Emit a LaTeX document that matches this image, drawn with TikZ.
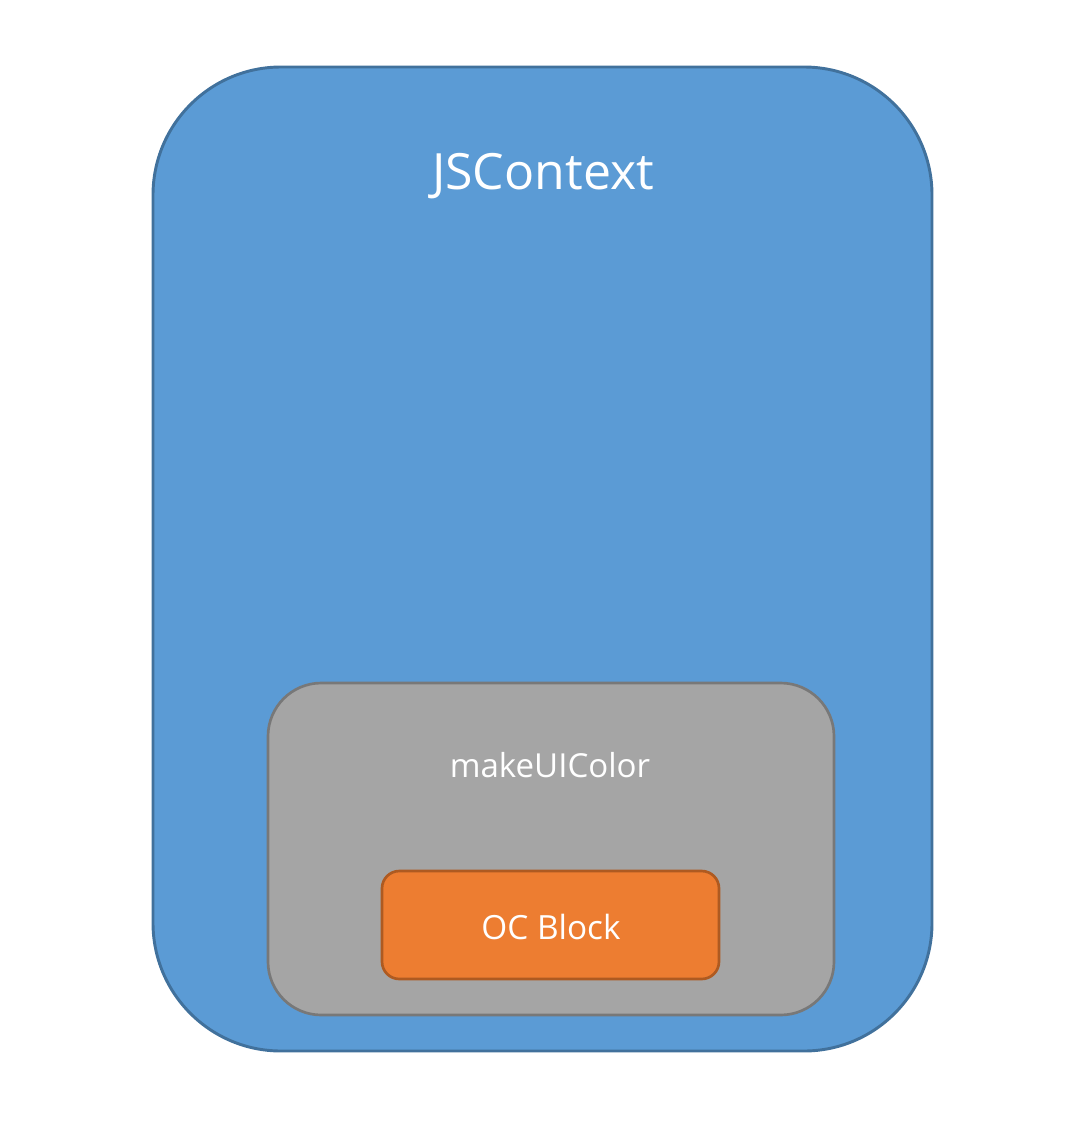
\documentclass[tikz,border=0pt]{standalone}
\usepackage{fontspec}
\setmainfont{Open Sans}
\definecolor{ctxfill}{HTML}{5B9BD5}
\definecolor{ctxline}{HTML}{41719C}
\definecolor{fnfill}{HTML}{A5A5A5}
\definecolor{fnline}{HTML}{787878}
\definecolor{blkfill}{HTML}{ED7D31}
\definecolor{blkline}{HTML}{AE5A21}
\begin{document}
\begin{tikzpicture}[x=0.75pt,y=-0.75pt,
  label/.style={text=white,inner sep=0pt,anchor=center},
  ctxbox/.style={fill=ctxfill,draw=ctxline,line width=2.2pt,rounded corners=96pt},
  fnbox/.style={fill=fnfill,draw=fnline,line width=2pt,rounded corners=40pt},
  blkbox/.style={fill=blkfill,draw=blkline,line width=2pt,rounded corners=13pt}]
\useasboundingbox (0,0) rectangle (1066,1128);
\draw[ctxbox] (153,67) rectangle (932,1051);
\node[label,font=\fontsize{37.5}{44}\selectfont] (ctx) at (543,176) {JSContext};
\draw[fnbox] (268,683) rectangle (834,1015);
\node[label,font=\fontsize{24.8}{29}\selectfont] (fn) at (550,765) {makeUIColor};
\draw[blkbox] (382,871) rectangle (719,979);
\node[label,font=\fontsize{25}{30}\selectfont] (blk) at (551,927) {OC Block};
\end{tikzpicture}
\end{document}
